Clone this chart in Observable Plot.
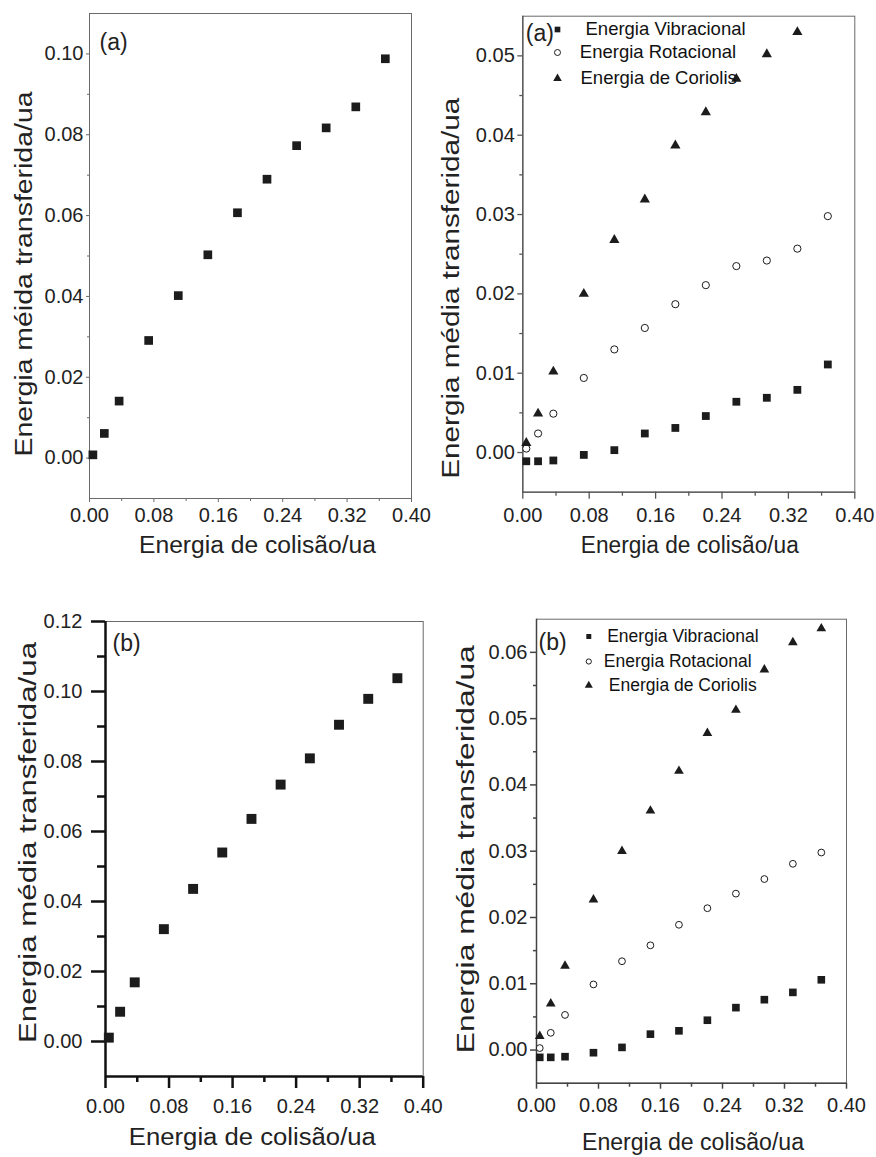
<!DOCTYPE html>
<html>
<head>
<meta charset="utf-8">
<script src="https://cdn.jsdelivr.net/npm/d3@7"></script>
<script src="https://cdn.jsdelivr.net/npm/@observablehq/plot@0.6"></script>
<style>
  html, body { margin: 0; padding: 0; background: #fff; }
  #fig { position: relative; width: 876px; height: 1157px; overflow: hidden; }
  #fig svg { position: absolute; }
</style>
</head>
<body>
<div id="fig"></div>
<script>
// Collision energies (atomic units)
const collisionEnergy = [0.0042, 0.0184, 0.0368, 0.0735, 0.1103, 0.1470, 0.1838, 0.2205, 0.2573, 0.2940, 0.3308, 0.3675];

// (a) total average transferred energy
const totalA = [0.0008, 0.0061, 0.0141, 0.0291, 0.0402, 0.0503, 0.0607, 0.0690, 0.0773, 0.0817, 0.0869, 0.0988];
// (a) components
const vibA = [-0.0011, -0.0011, -0.0010, -0.0003, 0.0003, 0.0024, 0.0031, 0.0046, 0.0064, 0.0069, 0.0079, 0.0111];
const rotA = [0.0005, 0.0024, 0.0049, 0.0094, 0.0130, 0.0157, 0.0187, 0.0211, 0.0235, 0.0242, 0.0257, 0.0298];
const corA = [0.0012, 0.0049, 0.0102, 0.0200, 0.0268, 0.0319, 0.0387, 0.0429, 0.0471, 0.0502, 0.0530];

// (b) total average transferred energy
const totalB = [0.0011, 0.0085, 0.0169, 0.0321, 0.0436, 0.0540, 0.0636, 0.0734, 0.0809, 0.0905, 0.0979, 0.1038];
// (b) components
const vibB = [-0.0011, -0.0011, -0.0010, -0.0004, 0.0004, 0.0024, 0.0029, 0.0045, 0.0064, 0.0076, 0.0087, 0.0106];
const rotB = [0.0003, 0.0026, 0.0053, 0.0099, 0.0134, 0.0158, 0.0189, 0.0214, 0.0236, 0.0258, 0.0281, 0.0298];
const corB = [0.0021, 0.0070, 0.0127, 0.0227, 0.0300, 0.0361, 0.0421, 0.0478, 0.0513, 0.0574, 0.0615, 0.0636];

const legendLabels = ["Energia Vibracional", "Energia Rotacional", "Energia de Coriolis"];

// Tick values
const xMajor = [0, 0.08, 0.16, 0.24, 0.32, 0.40];
const xMinor = [0.04, 0.12, 0.20, 0.28, 0.36];
const yMajorTotalA = [0, 0.02, 0.04, 0.06, 0.08, 0.10];
const yMinorTotalA = [0.01, 0.03, 0.05, 0.07, 0.09];
const yMajorTotalB = [0, 0.02, 0.04, 0.06, 0.08, 0.10, 0.12];
const yMinorTotalB = [0.01, 0.03, 0.05, 0.07, 0.09, 0.11];
const yMajorCompA = [0, 0.01, 0.02, 0.03, 0.04, 0.05];
const yMinorCompA = [0.005, 0.015, 0.025, 0.035, 0.045];
const yMajorCompB = [0, 0.01, 0.02, 0.03, 0.04, 0.05, 0.06];
const yMinorCompB = [0.005, 0.015, 0.025, 0.035, 0.045, 0.055];

const xTitle = "Energia de colisão/ua";
const INK = "#1c1c1c";
const FONT = '"Liberation Sans", Arial, Helvetica, sans-serif';
const fmt = d3.format(".2f");

const pts = (ys) => ys.map((y, i) => ({x: collisionEnergy[i], y}));

function panel(c) {
  const axisStyle = {stroke: c.axisColor, strokeWidth: c.axisWidth};
  const marks = [
    Plot.frame({stroke: "#6a6a6a", strokeWidth: 1}),
    Plot.ruleX([0], {stroke: c.axisColor, strokeWidth: c.axisWidth}),
    Plot.ruleY([c.yDomain[0]], {stroke: c.axisColor, strokeWidth: c.axisWidth}),
    Plot.axisX(xMajor, {...axisStyle, tickSize: c.xTick[0], tickPadding: c.xPad, tickFormat: fmt, fontSize: 20, fill: "#222", label: null}),
    Plot.axisX(xMinor, {...axisStyle, tickSize: c.xTick[1], text: null, label: null}),
    Plot.axisY(c.yMajor, {...axisStyle, tickSize: c.yTick[0], tickPadding: c.yPad, tickFormat: fmt, fontSize: 20, fill: "#222", label: null}),
    Plot.axisY(c.yMinor, {...axisStyle, tickSize: c.yTick[1], text: null, label: null}),
    Plot.text([xTitle], {frameAnchor: "bottom", lineAnchor: "middle", dx: c.xTitleDx, dy: c.xTitleDy, fontSize: 23, fill: "#222"}),
    Plot.text([c.yTitle], {frameAnchor: "left", lineAnchor: "middle", textAnchor: "middle", rotate: -90, dx: c.yTitleDx, dy: c.yTitleDy, fontSize: 23, fill: "#222"}),
    Plot.text([c.tag], {frameAnchor: "top-left", textAnchor: "start", lineAnchor: "middle", dx: c.tagDx, dy: c.tagDy, fontSize: 23, fill: "#222"}),
    ...c.marks
  ];
  const svg = Plot.plot({
    width: c.width,
    height: c.height,
    marginLeft: c.m[0], marginTop: c.m[1], marginRight: c.m[2], marginBottom: c.m[3],
    x: {domain: [0, 0.4]},
    y: {domain: c.yDomain},
    style: {fontFamily: FONT, fontSize: "20px", color: "#222", background: "transparent", overflow: "visible"},
    marks
  });
  svg.style.left = c.left + "px";
  svg.style.top = c.top + "px";
  // stretch the axis titles to their printed lengths
  svg.querySelectorAll("text").forEach((t) => {
    if (t.textContent === xTitle) { t.setAttribute("textLength", c.xTitleLen); t.setAttribute("lengthAdjust", "spacingAndGlyphs"); }
    if (t.textContent === c.yTitle) { t.setAttribute("textLength", c.yTitleLen); t.setAttribute("lengthAdjust", "spacingAndGlyphs"); }
  });
  document.getElementById("fig").appendChild(svg);
}

function legend(c) {
  const syms = ["square", "circle", "triangle"];
  const out = [];
  legendLabels.forEach((label, i) => {
    out.push(Plot.dot([label], {
      frameAnchor: "top-left", dx: c.symDx, dy: c.rowDy[i],
      symbol: syms[i], r: c.symR[i],
      fill: i === 1 ? "white" : INK, stroke: i === 1 ? INK : "none", strokeWidth: 1
    }));
    out.push(Plot.text([label], {
      frameAnchor: "top-left", textAnchor: "start", lineAnchor: "middle",
      dx: c.textDx[i], dy: c.rowDy[i], fontSize: c.fontSize, fill: "#111"
    }));
  });
  return out;
}

function componentDots(vib, rot, cor, s) {
  return [
    Plot.dot(pts(vib), {x: "x", y: "y", symbol: "square", r: s.sq, fill: INK}),
    Plot.dot(pts(rot), {x: "x", y: "y", symbol: "circle", r: s.ci, fill: "white", stroke: INK, strokeWidth: 1}),
    Plot.dot(pts(cor), {x: "x", y: "y", symbol: "triangle", r: s.tr, fill: INK})
  ];
}

// (a) total
panel({
  left: 0, top: 0, width: 440, height: 560, m: [89, 13, 29, 62],
  yDomain: [-0.01, 0.11], yMajor: yMajorTotalA, yMinor: yMinorTotalA,
  xTick: [4, 3], xPad: 5, yTick: [3, 2], yPad: 3,
  axisColor: "#6a6a6a", axisWidth: 1,
  yTitle: "Energia méida transferida/ua", yTitleDx: -65, yTitleDy: 18, yTitleLen: 365,
  xTitleDx: 7, xTitleDy: 47, xTitleLen: 237,
  tag: "(a)", tagDx: 10, tagDy: 29,
  marks: [Plot.dot(pts(totalA), {x: "x", y: "y", symbol: "square", r: 4.9, fill: INK})]
});

// (a) components
panel({
  left: 440, top: 0, width: 436, height: 560, m: [82.3, 15.7, 21.7, 68.3],
  yDomain: [-0.005, 0.055], yMajor: yMajorCompA, yMinor: yMinorCompA,
  xTick: [7, 4], xPad: 9, yTick: [5, 3], yPad: 3,
  axisColor: "#555", axisWidth: 1.3,
  yTitle: "Energia média transferida/ua", yTitleDx: -71, yTitleDy: 34, yTitleLen: 381,
  xTitleDx: 1, xTitleDy: 53, xTitleLen: 218,
  tag: "(a)", tagDx: 3, tagDy: 17,
  marks: [
    ...componentDots(vibA, rotA, corA, {sq: 4.4, ci: 3.6, tr: 3.8}),
    ...legend({symDx: 34.7, rowDy: [13.3, 36.3, 62.3], symR: [3.2, 3.0, 3.2], textDx: [62.7, 57, 57.7], fontSize: 18.5})
  ]
});

// (b) total
panel({
  left: 0, top: 560, width: 440, height: 597, m: [105, 61, 17.3, 81],
  yDomain: [-0.01, 0.12], yMajor: yMajorTotalB, yMinor: yMinorTotalB,
  xTick: [12, 6], xPad: 10, yTick: [14, 8], yPad: 9,
  axisColor: "#111", axisWidth: 2.5,
  yTitle: "Energia média transferida/ua", yTitleDx: -77, yTitleDy: -6.5, yTitleLen: 401,
  xTitleDx: -12, xTitleDy: 60.7, xTitleLen: 247,
  tag: "(b)", tagDx: 7, tagDy: 22,
  marks: [Plot.dot(pts(totalB), {x: "x", y: "y", symbol: "square", r: 5.6, fill: INK})]
});

// (b) components
panel({
  left: 440, top: 560, width: 436, height: 597, m: [96, 58.7, 30, 74.3],
  yDomain: [-0.005, 0.065], yMajor: yMajorCompB, yMinor: yMinorCompB,
  xTick: [6, 4], xPad: 9, yTick: [6, 3], yPad: 3,
  axisColor: "#444", axisWidth: 1.5,
  yTitle: "Energia média transferida/ua", yTitleDx: -70, yTitleDy: -2, yTitleLen: 408,
  xTitleDx: 1.5, xTitleDy: 59, xTitleLen: 222,
  tag: "(b)", tagDx: 2, tagDy: 23,
  marks: [
    ...componentDots(vibB, rotB, corB, {sq: 4.3, ci: 3.4, tr: 3.6}),
    ...legend({symDx: 52.3, rowDy: [17.3, 42.3, 66.3], symR: [2.8, 2.6, 3.0], textDx: [70.7, 67.3, 72.3], fontSize: 17.5})
  ]
});
</script>
</body>
</html>
